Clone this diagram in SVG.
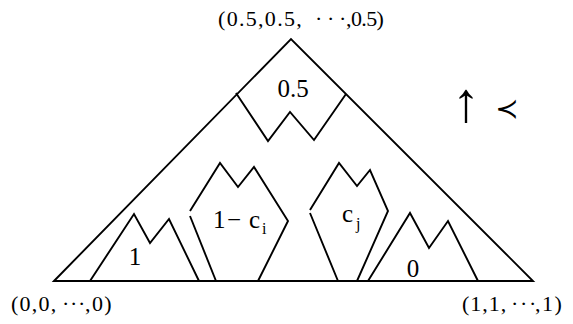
<svg xmlns="http://www.w3.org/2000/svg" width="573" height="324" viewBox="0 0 573 324">
<style>
.ln{fill:none;stroke:#000;stroke-width:1.9;stroke-linejoin:miter;stroke-linecap:butt}
.lbl{font-family:"Liberation Serif","DejaVu Serif",serif;font-size:25px;fill:#000}
.crd{font-family:"Liberation Serif","DejaVu Serif",serif;font-size:22px;fill:#000}
.sym{font-family:"DejaVu Sans","Liberation Serif",sans-serif;fill:#000}
</style>
<rect width="573" height="324" fill="#fff"/>
<g id="simplex">
<path class="ln" d="M54,281 L291,39 L533,281 Z"/>
</g>
<g id="region-top">
<path class="ln" d="M236,93 L268,141 L290,112 L314,140 L346,94"/>
<text class="lbl" x="293" y="97" text-anchor="middle">0.5</text>
</g>
<g id="region-one">
<path class="ln" d="M90,281 L134,214 L150,243 L169,219 L199,281"/>
<text class="lbl" x="135" y="265" text-anchor="middle">1</text>
</g>
<g id="region-ci">
<path class="ln" d="M190,211 L220,163 L238,187 L254,167 L288,221 L258,281"/>
<path class="ln" d="M190,216 L216,281"/>
<text class="lbl" x="213" y="228">1<tspan x="227">−</tspan><tspan x="249">c</tspan><tspan x="262" dy="6" font-size="16">i</tspan></text>
</g>
<g id="region-cj">
<path class="ln" d="M338,281 L310,213 M310,210 L339,163 L357,186 L370,170 L388,211 L357,281"/>
<text class="lbl" x="342" y="222">c<tspan x="356" dy="7" font-size="16">j</tspan></text>
</g>
<g id="region-zero">
<path class="ln" d="M368,281 L410,213 L429,248 L448,221 L478,281"/>
<text class="lbl" x="413" y="277" text-anchor="middle">0</text>
</g>
<g id="label-top">
<text class="crd" x="218" y="26" letter-spacing="1.3">(0.5,0.5,</text>
<text class="crd" x="315 327 339" y="26">···</text>
<text class="crd" x="346" y="26" letter-spacing="-0.6">,0.5)</text>
</g>
<g id="label-left">
<text class="crd" x="11" y="311" letter-spacing="1.2">(0,0,</text>
<text class="crd" x="62 70 78" y="311">···</text>
<text class="crd" x="85" y="311" letter-spacing="1.4">,0)</text>
</g>
<g id="label-right">
<text class="crd" x="462" y="311" letter-spacing="1">(1,1,</text>
<text class="crd" x="511 520 529" y="311">···</text>
<text class="crd" x="535" y="311" letter-spacing="1.5">,1)</text>
</g>
<g id="order">
<text x="466" y="121" font-family="Liberation Serif, serif" font-size="56" text-anchor="middle">↑</text>
<text class="sym" x="507" y="118" font-size="28" text-anchor="middle">≺</text>
</g>
</svg>
